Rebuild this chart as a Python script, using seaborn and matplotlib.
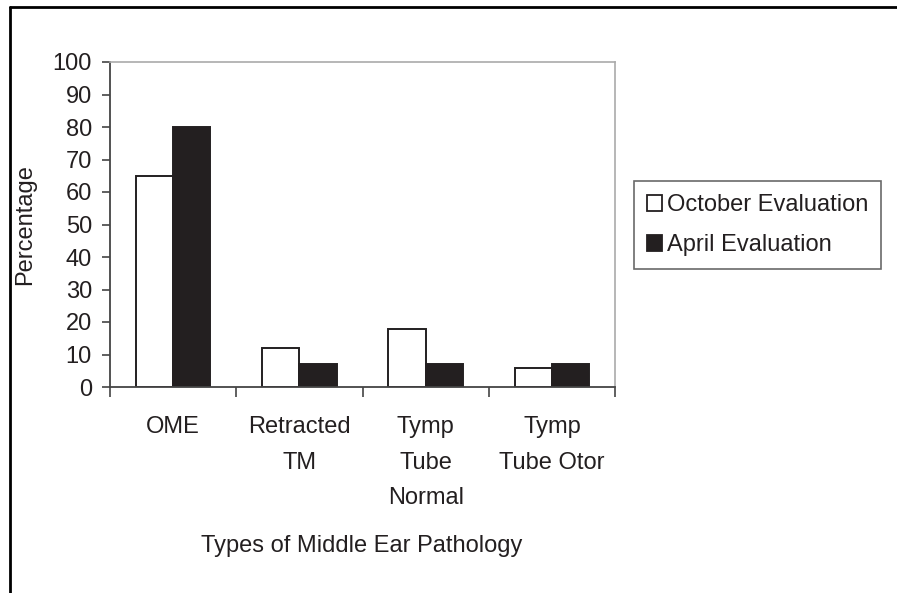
import matplotlib
matplotlib.use("Agg")
import matplotlib.pyplot as plt
import seaborn as sns
import pandas as pd
from matplotlib.lines import Line2D
from matplotlib.patches import Patch

categories = ["OME", "Retracted\nTM", "Tymp\nTube\nNormal", "Tymp\nTube Otor"]
october = [65, 12, 18, 6]
april = [80, 7, 7, 7]
series = ["October Evaluation", "April Evaluation"]
yticks = [0, 10, 20, 30, 40, 50, 60, 70, 80, 90, 100]

df = pd.DataFrame({
    "cat": categories * 2,
    "val": october + april,
    "series": [series[0]] * 4 + [series[1]] * 4,
})

sns.set_style("white")
plt.rcParams["font.family"] = ["Liberation Sans", "DejaVu Sans"]
TXT = "#231f20"
FS = 17

fig = plt.figure(figsize=(8.97, 5.93), dpi=100)
ax = fig.add_axes([110 / 897, 1 - 387 / 593, 505 / 897, 325 / 593])

sns.barplot(data=df, x="cat", y="val", hue="series", order=categories,
            hue_order=series, palette={series[0]: "white", series[1]: TXT},
            edgecolor=TXT, linewidth=1.4, width=0.59, ax=ax, legend=False,
            saturation=1)

ax.set_ylim(0, 100)
ax.set_xlim(-0.5, 3.5)
ax.set_yticks(yticks)
ax.set_yticklabels([str(v) for v in yticks], fontsize=FS, color=TXT)
ax.set_xticks([-0.5, 0.5, 1.5, 2.5, 3.5])
ax.set_xticklabels([])
ax.tick_params(axis="y", direction="out", length=6, width=1.2, color="#444444", pad=7, left=True)
ax.tick_params(axis="x", direction="out", length=7, width=1.2, color="#444444", bottom=True)
for i, c in enumerate(categories):
    ax.text(i, -8.8, c, ha="center", va="top", fontsize=FS, color=TXT,
            linespacing=1.82, transform=ax.transData)

for s in ["left", "bottom"]:
    ax.spines[s].set_color("#444444")
    ax.spines[s].set_linewidth(1.3)
for s in ["top", "right"]:
    ax.spines[s].set_color("#aaaaaa")
    ax.spines[s].set_linewidth(1.2)

ax.set_xlabel("")
ax.set_ylabel("Percentage", fontsize=FS, color=TXT, labelpad=12)
fig.text(362 / 897, 1 - 546 / 593, "Types of Middle Ear Pathology", ha="center",
         va="center", fontsize=FS, color=TXT)

handles = [Patch(facecolor="white", edgecolor=TXT, linewidth=1.3),
           Patch(facecolor=TXT, edgecolor=TXT, linewidth=1.3)]
leg = fig.legend(handles, series, loc="upper left",
                 bbox_to_anchor=(634 / 897, 1 - 181 / 593), fontsize=FS,
                 frameon=True, fancybox=False, handlelength=0.65, handleheight=0.65,
                 handletextpad=0.2, borderpad=0.55, labelspacing=0.78,
                 borderaxespad=0)
leg.get_frame().set_edgecolor("#444444")
leg.get_frame().set_linewidth(1.2)
for t in leg.get_texts():
    t.set_color(TXT)

# figure frame lines (left and top)
fig.add_artist(Line2D([10 / 897, 10 / 897], [0, 1 - 7 / 593], color="black", lw=2,
                      transform=fig.transFigure))
fig.add_artist(Line2D([10 / 897, 1], [1 - 7 / 593, 1 - 7 / 593], color="black", lw=2,
                      transform=fig.transFigure))

fig.savefig("out.png", dpi=100, facecolor="white")
